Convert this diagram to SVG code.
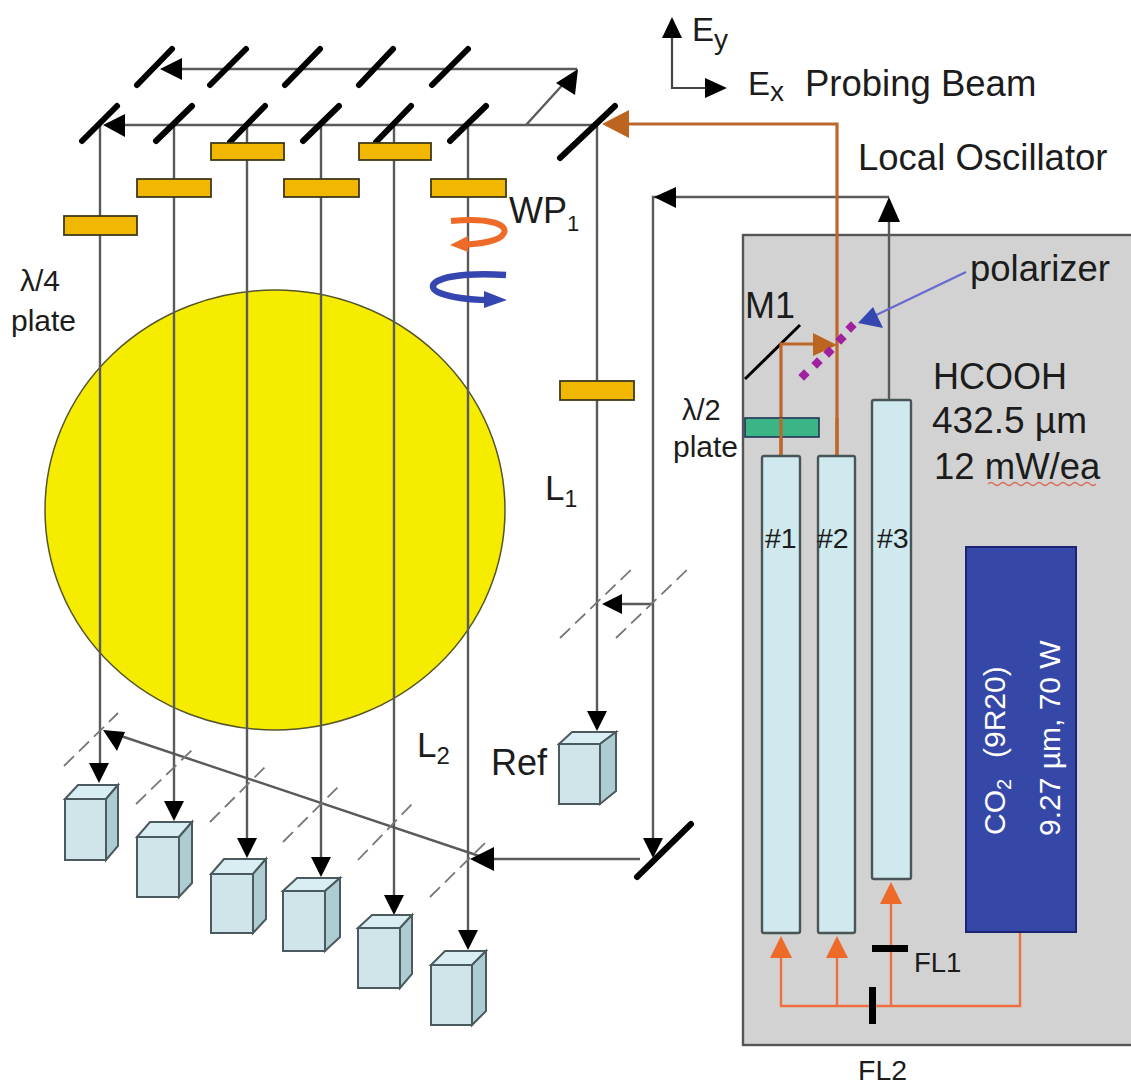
<svg xmlns="http://www.w3.org/2000/svg" width="1131" height="1087" viewBox="0 0 1131 1087">
<style>
text{font-family:"Liberation Sans",Arial,sans-serif;fill:#1c1c1c}
.beam{fill:none;stroke:#5a5a5a;stroke-width:2.4}
.ah{fill:#000}
.mir{stroke:#000;stroke-width:6;stroke-linecap:round;fill:none}
.wp{fill:#f2b700;stroke:#3f3a1a;stroke-width:1.8}
.lens{stroke:#777;stroke-width:1.8;stroke-dasharray:14 7;fill:none}
.fr{fill:#cfe5ea;stroke:#4a5a5e;stroke-width:2}
.tp{fill:#d9eef2;stroke:#4a5a5e;stroke-width:2}
.sd{fill:#aecdd3;stroke:#4a5a5e;stroke-width:2}
.tube{fill:#cfe9ef;stroke:#4a5558;stroke-width:2.4}
.br{fill:none;stroke:#bd672a;stroke-width:3.2}
.or{fill:none;stroke:#ee7040;stroke-width:2.4}
.orh{fill:#ee6a28}
.brh{fill:#bd6420}
.dot{fill:#a020a0}
</style>
<rect width="1131" height="1087" fill="#fff"/>
<g id="sample"><ellipse cx="275" cy="510" rx="230" ry="220" fill="#f5ec00" stroke="#55552a" stroke-width="1.5"/></g>
<g id="housing"><rect x="743" y="235" width="392" height="810" fill="#d2d2d2" stroke="#555" stroke-width="2.4"/></g>
<g id="connectors">
<path class="beam" d="M100 125V770M174 125V806M247 125V843M321 125V862M394 125V900M468 125V936M597 125V716"/>
<path class="beam" d="M118 125H597M178 69H577M526 125L567 80"/>
<path class="beam" d="M653 845V197H889M889 400V215M640 859H488L118 735M653 604H615"/>
<path d="M99 783l-10-20h20zM174 821l-10-20h20zM247 858l-10-20h20zM321 877l-10-20h20zM394 915l-10-20h20zM468 950l-10-20h20zM597 731l-10-20h20z" class="ah"/>
<path d="M103 125l22-11v23zM160 69l22-11v22zM654 197l22-10v21zM889 197l-11 25h22zM653 858l-10-20h20zM470 859l24-12v24zM103 730l22 2-8 19zM602 604l20-10v20zM578 69l-3 26-19-12z" class="ah"/>
<g class="lens">
<line x1="64" y1="766" x2="118" y2="713"/><line x1="136" y1="804" x2="192" y2="750"/><line x1="210" y1="822" x2="265" y2="767"/><line x1="283" y1="842" x2="340" y2="785"/><line x1="358" y1="860" x2="412" y2="804"/><line x1="430" y1="897" x2="486" y2="842"/>
<line x1="560" y1="638" x2="635" y2="566"/><line x1="616" y1="638" x2="691" y2="566"/>
</g>
<path d="M745 379L800 325" stroke="#000" stroke-width="3" fill="none"/>
<path class="br" d="M781 456V344H815M837 456V124H625"/>
<path class="brh" d="M837 345l-24-12v23zM602 124l27-14v28z"/>
<path d="M966 272L870 318" stroke="#6a6ad0" stroke-width="2.4" fill="none"/>
<path d="M858 323l15-16 10 21z" fill="#3546b0"/>
<path class="or" d="M781 955V1006H1020V932M837 955V1006M891 900V1006"/>
<path class="orh" d="M781 936l-11 22h22zM837 936l-11 22h22zM891 882l-11 22h22z"/>
</g>
<g id="mirrors" class="mir">
<line x1="137" y1="85" x2="172" y2="49"/><line x1="210" y1="85" x2="246" y2="49"/><line x1="285" y1="85" x2="320" y2="49"/><line x1="359" y1="85" x2="393" y2="49"/><line x1="432" y1="85" x2="468" y2="49"/>
<line x1="82" y1="141" x2="117" y2="106"/><line x1="156" y1="141" x2="192" y2="106"/><line x1="230" y1="142" x2="265" y2="106"/><line x1="303" y1="141" x2="339" y2="106"/><line x1="376" y1="142" x2="411" y2="106"/><line x1="450" y1="141" x2="486" y2="106"/>
<line x1="560" y1="158" x2="615" y2="106"/>
<line x1="637" y1="877" x2="691" y2="824"/>
</g>
<g id="waveplates">
<rect class="wp" x="64" y="216" width="73" height="19"/><rect class="wp" x="137" y="179" width="74" height="18"/><rect class="wp" x="211" y="143" width="73" height="17"/><rect class="wp" x="284" y="179" width="75" height="18"/><rect class="wp" x="359" y="143" width="72" height="17"/><rect class="wp" x="431" y="179" width="75" height="18"/><rect class="wp" x="560" y="381" width="74" height="19"/>
</g>
<g id="rotation-orange"><path d="M451 221C490 217 508 225 504 233C500 242 478 244 460 245" fill="none" stroke="#ee6a28" stroke-width="6"/><path d="M450 245L468 236V252Z" fill="#ee6a28"/></g>
<g id="rotation-blue"><path d="M506 275C462 272 432 278 433 287C434 296 468 300 490 300" fill="none" stroke="#3546b0" stroke-width="6.5"/><path d="M507 300L484 291V308Z" fill="#3546b0"/></g>
<g id="detectors">
<g id="d1"><path class="tp" d="M65 799L78 785H118L106 799Z"/><path class="sd" d="M106 799L118 785V846L106 860Z"/><rect class="fr" x="65" y="799" width="41" height="61"/></g>
<g id="d2"><path class="tp" d="M137 837L150 822H192L179 837Z"/><path class="sd" d="M179 837L192 822V883L179 897Z"/><rect class="fr" x="137" y="837" width="42" height="60"/></g>
<g id="d3"><path class="tp" d="M211 874L224 859H266L253 874Z"/><path class="sd" d="M253 874L266 859V919L253 933Z"/><rect class="fr" x="211" y="874" width="42" height="59"/></g>
<g id="d4"><path class="tp" d="M283 891L297 878H340L325 891Z"/><path class="sd" d="M325 891L340 878V937L325 951Z"/><rect class="fr" x="283" y="891" width="42" height="60"/></g>
<g id="d5"><path class="tp" d="M358 928L372 915H412L400 928Z"/><path class="sd" d="M400 928L412 915V974L400 988Z"/><rect class="fr" x="358" y="928" width="42" height="60"/></g>
<g id="d6"><path class="tp" d="M431 965L445 951H486L472 965Z"/><path class="sd" d="M472 965L486 951V1011L472 1025Z"/><rect class="fr" x="431" y="965" width="41" height="60"/></g>
<g id="ref"><path class="tp" d="M559 744L572 732H616L600 744Z"/><path class="sd" d="M600 744L616 732V791L600 804Z"/><rect class="fr" x="559" y="744" width="41" height="60"/></g>
</g>
<g id="polarizer" class="dot">
<rect x="847" y="323" width="8" height="8" transform="rotate(45 851 327)"/><rect x="837" y="335" width="8" height="8" transform="rotate(45 841 339)"/><rect x="825" y="348" width="8" height="8" transform="rotate(45 829 352)"/><rect x="813" y="359" width="8" height="8" transform="rotate(45 817 363)"/><rect x="800" y="371" width="8" height="8" transform="rotate(45 804 375)"/>
</g>
<g id="halfwave"><rect x="745" y="418" width="74" height="19" fill="#3cb586" stroke="#235" stroke-width="1.6"/></g>
<path d="M781 418V456" class="br"/><path d="M837 418V456" class="br"/>
<g id="tubes">
<rect class="tube" x="762" y="456" width="38" height="477" rx="2"/><rect class="tube" x="818" y="456" width="37" height="477" rx="2"/><rect class="tube" x="872" y="400" width="39" height="479" rx="2"/>
</g>
<g id="co2"><rect x="966" y="547" width="110" height="385" fill="#3548a8" stroke="#1a2470" stroke-width="2"/>
<text transform="translate(1005 835) rotate(-90)" style="fill:#fff;font-size:30px">CO<tspan dy="6" style="font-size:20px">2</tspan><tspan dy="-6" x="77">(9R20)</tspan></text>
<text transform="translate(1060 836) rotate(-90)" style="fill:#fff;font-size:30px">9.27 µm, 70 W</text></g>
<g id="filters" fill="#000"><rect x="872" y="945" width="36" height="7"/><rect x="869" y="987" width="7" height="37"/></g>
<path d="M672 35V88H705" fill="none" stroke="#444" stroke-width="2.2"/>
<path d="M672 17l-10 21h20zM727 88l-22-10v20z" fill="#000"/>
<g id="labels">
<text x="692" y="41" style="font-size:33px">E<tspan dy="8" style="font-size:28px">y</tspan></text>
<text x="748" y="95" style="font-size:33px">E<tspan dy="6" style="font-size:28px">x</tspan></text>
<text x="805" y="96" style="font-size:36.5px">Probing Beam</text>
<text x="858" y="170" style="font-size:36.5px">Local Oscillator</text>
<text x="509" y="223" style="font-size:36px">WP<tspan dy="8" style="font-size:22px">1</tspan></text>
<text x="20" y="291" style="font-size:30px">λ/4</text>
<text x="11" y="331" style="font-size:30px">plate</text>
<text x="970" y="281" style="font-size:36.5px">polarizer</text>
<text x="745" y="318" style="font-size:36px">M1</text>
<text x="682" y="420" style="font-size:29px">λ/2</text>
<text x="673" y="457" style="font-size:30px">plate</text>
<text x="933" y="389" style="font-size:36px">HCOOH</text>
<text x="932" y="433" style="font-size:37px">432.5 µm</text>
<text x="934" y="479" style="font-size:36.5px">12 mW/ea</text>
<path d="M988 484q3 -3 6 0t6 0t6 0t6 0t6 0t6 0t6 0t6 0t6 0t6 0t6 0t6 0t6 0t6 0t6 0t6 0t6 0t6 0" fill="none" stroke="#d86a5a" stroke-width="1.2"/>
<text x="545" y="500" style="font-size:35px">L<tspan dy="7" style="font-size:23px">1</tspan></text>
<text x="417" y="757" style="font-size:35px">L<tspan dy="7" style="font-size:24px">2</tspan></text>
<text x="491" y="775" style="font-size:36px">Ref</text>
<text x="765" y="548" style="font-size:28.5px">#1</text>
<text x="817" y="548" style="font-size:28.5px">#2</text>
<text x="877" y="548" style="font-size:28.5px">#3</text>
<text x="914" y="972" style="font-size:27.5px">FL1</text>
<text x="858" y="1080" style="font-size:28.5px">FL2</text>
</g>
</svg>
